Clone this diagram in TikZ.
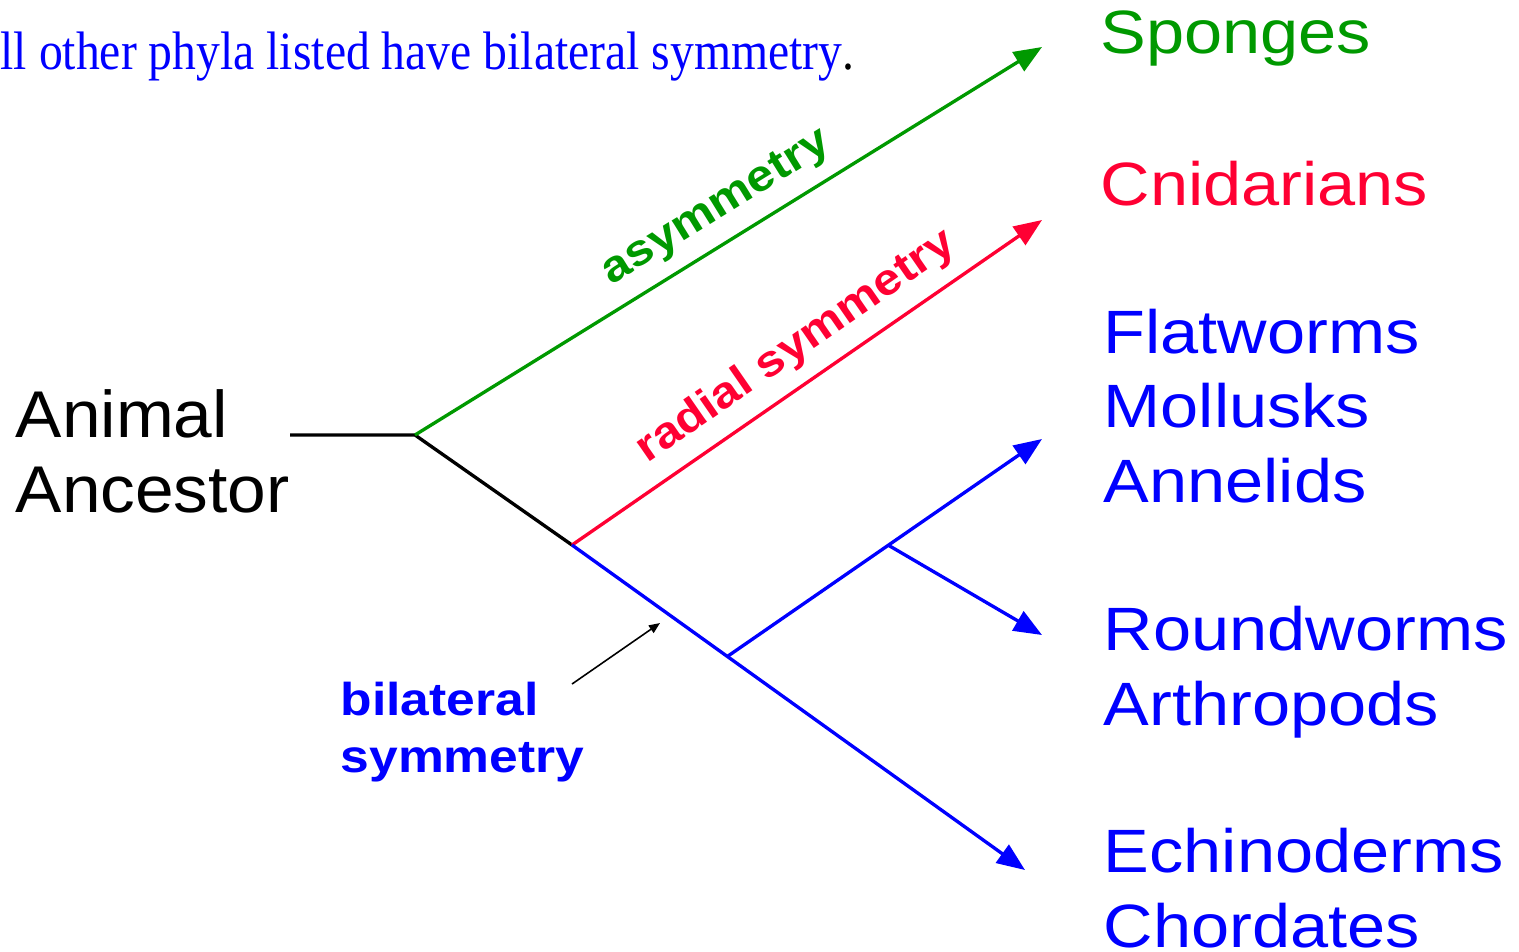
\documentclass[tikz,border=0pt]{standalone}
\usepackage{fontspec}
\setmainfont{Liberation Serif}
\newfontfamily\labfont[FakeStretch=1.12]{Liberation Sans}
\newfontfamily\ancfont[FakeStretch=1.05]{Liberation Sans}
\newfontfamily\capfont[FakeStretch=0.88]{Liberation Serif}
\usetikzlibrary{arrows.meta}
\definecolor{spgreen}{RGB}{0,153,0}
\definecolor{cnred}{RGB}{255,0,51}
\definecolor{bilblue}{RGB}{0,0,255}

\tikzset{
  branch/.style={line width=0.95pt},
  tip/.style={-{Triangle[length=0.28cm,width=0.22cm]}},
  pointer/.style={line width=0.45pt,-{Triangle[length=0.11cm,width=0.09cm]}},
  taxon/.style={anchor=base west,inner sep=0pt,align=left,font=\labfont\fontsize{17.4}{21.1}\selectfont},
  trait/.style={sloped,inner sep=0pt,above=0.13cm,font=\labfont\bfseries\fontsize{12.5}{15}\selectfont}
}

\begin{document}
\begin{tikzpicture}[x=0.01cm,y=-0.01cm]
\useasboundingbox (0,0) rectangle (1519,951);

\node[anchor=base west,inner sep=0pt,text=bilblue,font=\capfont\fontsize{15.4}{18}\selectfont] (cap) at (0,69) {ll other phyla listed have bilateral symmetry\textcolor{black}{.}};

% labels (base anchor = last line)
\node[anchor=base west,inner sep=0pt,align=left,font=\ancfont\fontsize{18.8}{21.3}\selectfont] (anc) at (15,512) {Animal\\Ancestor};
\node[taxon,text=spgreen] (spo) at (1100,53) {Sponges};
\node[taxon,text=cnred] (cni) at (1100,205) {Cnidarians};
\node[taxon,text=bilblue] (fla) at (1103,502) {Flatworms\\Mollusks\\Annelids};
\node[taxon,text=bilblue] (rou) at (1103,725) {Roundworms\\Arthropods};
\node[taxon,text=bilblue] (ech) at (1103,947) {Echinoderms\\Chordates};
\node[anchor=base west,inner sep=0pt,align=left,text=bilblue,font=\labfont\bfseries\fontsize{13.1}{16.2}\selectfont] (bil) at (340,772) {bilateral\\symmetry};

% tree
\coordinate (root) at (290,435);
\coordinate (a) at (415,435);
\coordinate (b) at (572,545);
\coordinate (c) at (728,656);
\coordinate (d) at (888,545);
\coordinate (tS) at (1042,47);
\coordinate (tC) at (1042,220);
\coordinate (tF) at (1042,439);
\coordinate (tR) at (1042,635);
\coordinate (tE) at (1025,870);
\coordinate (ps) at (572,684);
\coordinate (pe) at (660,623);

\draw[branch] (root) -- (a) -- (b);
\draw[branch,tip,spgreen] (a) -- node[trait,pos=0.51,text=spgreen] (asy) {asymmetry} (tS);
\draw[branch,tip,cnred] (b) -- node[trait,pos=0.52,text=cnred] (rad) {radial symmetry} (tC);
\draw[branch,tip,bilblue] (b) -- (tE);
\draw[branch,tip,bilblue] (c) -- (tF);
\draw[branch,tip,bilblue] (d) -- (tR);
\draw[pointer] (ps) -- (pe);
\end{tikzpicture}
\end{document}
